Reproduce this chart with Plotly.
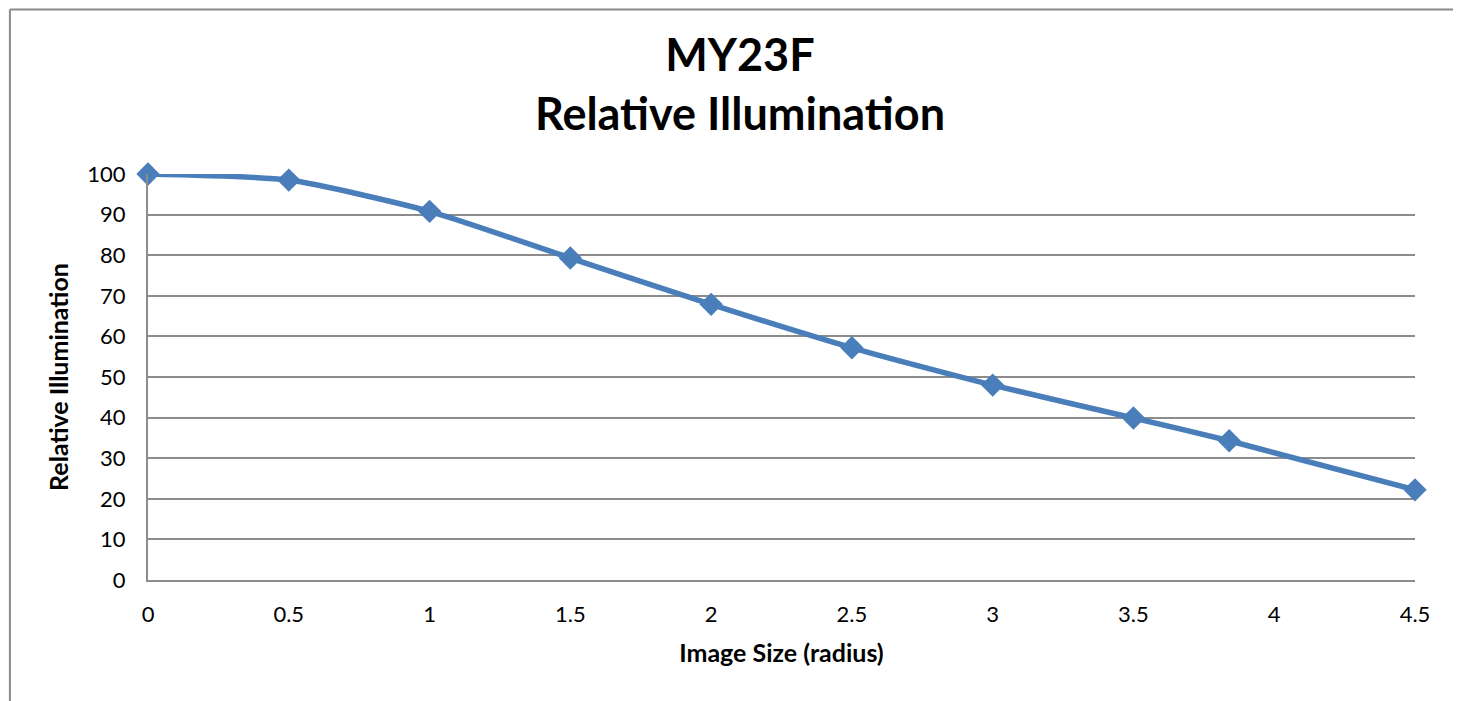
import plotly.graph_objects as go

# Relative illumination vs image radius
radius = [0, 0.5, 1.0, 1.5, 2.0, 2.5, 3.0, 3.5, 3.84, 4.5]
illum = [100, 98.5, 90.8, 79.3, 67.9, 57.2, 48.0, 39.9, 34.3, 22.2]

x_ticks = [0, 0.5, 1, 1.5, 2, 2.5, 3, 3.5, 4, 4.5]
x_labels = ["0", "0.5", "1", "1.5", "2", "2.5", "3", "3.5", "4", "4.5"]

BLUE = "#4a7ebb"
GRID = "#8c8c8c"
FONT = "Lato, Calibri, sans-serif"

fig = go.Figure()

fig.add_trace(go.Scatter(
    x=radius, y=illum,
    mode="lines+markers",
    line=dict(color=BLUE, width=5.5, shape="spline", smoothing=0.6),
    marker=dict(symbol="diamond", size=18, color=BLUE),
    cliponaxis=False,
    showlegend=False,
))

# chart frame (left + top edge, like the Excel chart border)
fig.add_shape(type="line", xref="paper", yref="paper",
              x0=-0.109, x1=-0.109, y0=1.405, y1=-0.35,
              line=dict(color="#8a8a8a", width=2))
fig.add_shape(type="line", xref="paper", yref="paper",
              x0=-0.109, x1=1.032, y0=1.405, y1=1.405,
              line=dict(color="#8a8a8a", width=2))

# the page body adds an 8px margin, so the figure is 8px smaller each way
W, H = 1453, 693

fig.update_layout(
    width=W, height=H,
    paper_bgcolor="white",
    plot_bgcolor="white",
    font=dict(family=FONT, color="black", size=22),
    title=dict(
        text="<b>MY23F<br>Relative Illumination</b>",
        font=dict(family=FONT, size=45, color="black"),
        x=732 / W, xref="container", xanchor="center",
        y=1 - 63 / H, yref="container", yanchor="top",
    ),
    margin=dict(l=140, r=46, t=166, b=121),
)

fig.update_xaxes(
    range=[0, 4.5],
    tickvals=x_ticks, ticktext=x_labels,
    showgrid=False, zeroline=False,
    showline=True, linecolor=GRID, linewidth=2,
    ticks="", ticklabelstandoff=14,
    title=dict(text="<b>Image Size (radius)</b>", font=dict(size=25), standoff=18),
)
fig.update_yaxes(
    range=[0, 100], dtick=10,
    showgrid=True, gridcolor=GRID, gridwidth=1.5,
    zeroline=False,
    showline=True, linecolor=GRID, linewidth=2,
    ticks="", ticklabelstandoff=16,
    title=dict(text="<b>Relative Illumination</b>", font=dict(size=25), standoff=12),
)

fig.write_html("out.html")
